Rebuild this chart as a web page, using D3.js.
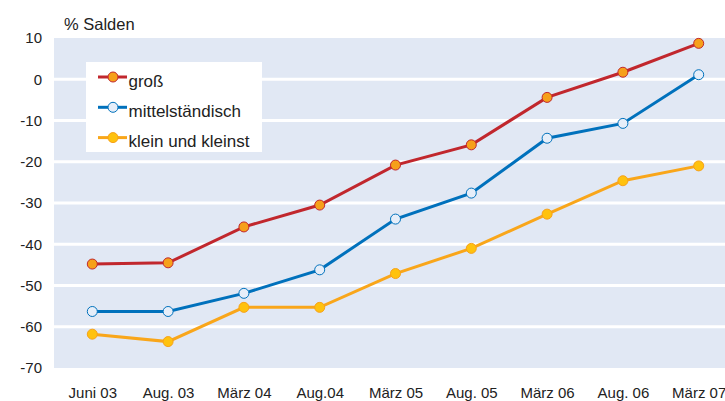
<!DOCTYPE html>
<html>
<head>
<meta charset="utf-8">
<script src="https://cdn.jsdelivr.net/npm/d3@7"></script>
<style>
  body { margin: 0; background: #fff; }
  svg { display: block; font-family: "Liberation Sans", Arial, sans-serif; }
</style>
</head>
<body>
<svg id="chart"></svg>
<script>
const categories = ["Juni 03", "Aug. 03", "März 04", "Aug.04", "März 05", "Aug. 05", "März 06", "Aug. 06", "März 07"];
const gross = [-44.8, -44.5, -35.8, -30.5, -20.8, -15.9, -4.4, 1.7, 8.7];
const mittel = [-56.3, -56.3, -51.9, -46.2, -33.9, -27.6, -14.3, -10.7, 1.1];
const klein = [-61.8, -63.6, -55.3, -55.3, -47.1, -41.0, -32.7, -24.6, -21.0];
const yTicks = [10, 0, -10, -20, -30, -40, -50, -60, -70];

const series = [
  { name: "groß", values: gross, line: "#c1272d", fill: "#f6a01a", stroke: "#c1272d" },
  { name: "mittelständisch", values: mittel, line: "#0071bc", fill: "#e6eef9", stroke: "#0071bc" },
  { name: "klein und kleinst", values: klein, line: "#f9a61a", fill: "#ffc20e", stroke: "#f7a11a" }
];

const width = 725, height = 401;
const svg = d3.select("#chart").attr("width", width).attr("height", height);

const plotLeft = 54, plotRight = 725, plotTop = 38, plotBottom = 368;

const x = d3.scalePoint().domain(categories).range([92.3, 698.7]);
const y = d3.scaleLinear().domain([-70, 10]).range([plotBottom, plotTop]);

// background
svg.append("rect")
  .attr("x", plotLeft).attr("y", plotTop)
  .attr("width", plotRight - plotLeft).attr("height", plotBottom - plotTop)
  .attr("fill", "#e1e8f4");

// white gridlines
svg.append("g")
  .selectAll("line")
  .data(yTicks.filter(t => t !== 10 && t !== -70))
  .enter()
  .append("line")
  .attr("x1", plotLeft).attr("x2", plotRight)
  .attr("y1", d => y(d)).attr("y2", d => y(d))
  .attr("stroke", "#fff")
  .attr("stroke-width", 3);

// y axis labels (plain hyphen for minus)
const yAxis = d3.axisLeft(y).tickValues(yTicks).tickSize(0).tickPadding(0).tickFormat(d => String(d));
const gy = svg.append("g").attr("transform", "translate(42,0)").call(yAxis);
gy.select(".domain").remove();
gy.attr("font-size", 15).attr("font-family", "Liberation Sans, Arial, sans-serif");
gy.selectAll("text").attr("fill", "#222");

// x axis labels
const xAxis = d3.axisBottom(x).tickSize(0).tickPadding(0);
const gx = svg.append("g").attr("transform", "translate(0,387.5)").call(xAxis);
gx.select(".domain").remove();
gx.attr("font-size", 15).attr("font-family", "Liberation Sans, Arial, sans-serif");
gx.selectAll("text").attr("fill", "#222");

svg.append("text")
  .attr("x", 64).attr("y", 30)
  .attr("font-size", 16.5).attr("fill", "#222")
  .text("% Salden");

// lines
const line = d3.line().x((d, i) => x(categories[i])).y(d => y(d));

series.forEach(s => {
  svg.append("path")
    .attr("d", line(s.values))
    .attr("fill", "none")
    .attr("stroke", s.line)
    .attr("stroke-width", 3);

  svg.append("g")
    .selectAll("circle")
    .data(s.values)
    .enter()
    .append("circle")
    .attr("cx", (d, i) => x(categories[i]))
    .attr("cy", d => y(d))
    .attr("r", 5)
    .attr("fill", s.fill)
    .attr("stroke", s.stroke)
    .attr("stroke-width", 1);
});

// legend
const legend = svg.append("g");
legend.append("rect")
  .attr("x", 86).attr("y", 62)
  .attr("width", 176).attr("height", 90)
  .attr("fill", "#fff");

series.forEach((s, i) => {
  const ly = 77 + i * 30.3;
  legend.append("line")
    .attr("x1", 98).attr("x2", 127)
    .attr("y1", ly).attr("y2", ly)
    .attr("stroke", s.line).attr("stroke-width", 3);
  legend.append("circle")
    .attr("cx", 113).attr("cy", ly).attr("r", 5)
    .attr("fill", s.fill).attr("stroke", s.stroke).attr("stroke-width", 1);
  legend.append("text")
    .attr("x", 128.5).attr("y", ly + 9.5)
    .attr("font-size", 17).attr("fill", "#222")
    .text(s.name);
});
</script>
</body>
</html>
